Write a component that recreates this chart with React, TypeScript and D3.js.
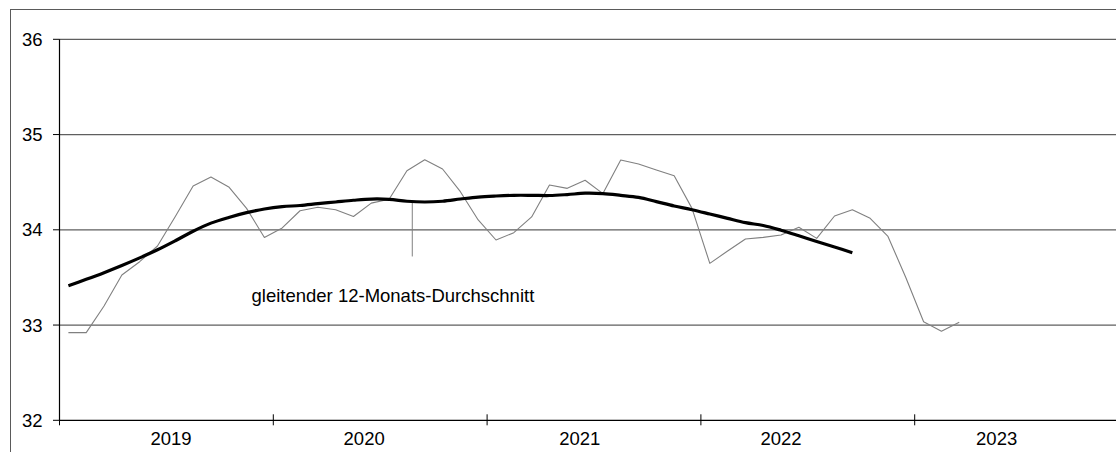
import React from "react";
import * as d3 from "d3";

// ---- data ----
const years = ["2019", "2020", "2021", "2022", "2023"];
const yTicks = [32, 33, 34, 35, 36];
// monthly values from Jan 2019 to Mar 2023
const monthly = [
  32.92, 32.92, 33.2, 33.525, 33.665, 33.83, 34.14, 34.46, 34.555, 34.45, 34.225, 33.92,
  34.02, 34.2, 34.236, 34.21, 34.14, 34.28, 34.32, 34.62, 34.736, 34.638, 34.4, 34.103,
  33.893, 33.97, 34.135, 34.47, 34.435, 34.52, 34.38, 34.733, 34.69, 34.628, 34.568, 34.225,
  33.648, 33.777, 33.903, 33.92, 33.945, 34.026, 33.91, 34.145, 34.21, 34.12, 33.93, 33.5,
  33.035, 32.935, 33.03,
];
// gleitender 12-Monats-Durchschnitt, Jan 2019 to Sep 2022
const movingAvg = [
  33.413, 33.48, 33.55, 33.625, 33.705, 33.79, 33.885, 33.985, 34.07, 34.13, 34.18, 34.218,
  34.243, 34.255, 34.274, 34.292, 34.31, 34.323, 34.32, 34.3, 34.292, 34.3, 34.323, 34.344,
  34.355, 34.362, 34.362, 34.36, 34.37, 34.384, 34.38, 34.362, 34.34, 34.296, 34.25, 34.211,
  34.166, 34.12, 34.075, 34.045, 33.995, 33.937, 33.877, 33.82, 33.76,
];
// stray vertical drop line (month offset, from, to)
const spikeMonth = 19.8;
const spikeFrom = 34.3;
const spikeTo = 33.72;
const avgLabel = "gleitender 12-Monats-Durchschnitt";

// ---- layout ----
const W = 1116;
const H = 452;
const plotLeft = 59.5;
const plotRight = 59.5 + 5 * 213.8;
const plotTop = 39.3;
const plotBottom = 420.3;
const yearLabelAnchor = [6.26, 17.1, 29.2, 40.5, 52.6];
const font = "'Liberation Sans', Arial, sans-serif";

export default function App() {
  const x = d3.scaleLinear().domain([0, 60]).range([plotLeft, plotRight]);
  const y = d3.scaleLinear().domain([32, 36]).range([plotBottom, plotTop]);

  const thinLine = d3
    .line<number>()
    .x((_, i) => x(i + 0.5))
    .y((d) => y(d));
  const thickLine = d3
    .line<number>()
    .x((_, i) => x(i + 0.5))
    .y((d) => y(d))
    .curve(d3.curveCatmullRom.alpha(0.5));

  const yearTicks = d3.range(0, 61, 12);

  return (
    <div style={{ position: "absolute", left: 0, top: 0, width: W, height: H, overflow: "hidden" }}>
      <svg width={W} height={H} style={{ display: "block" }}>
        <rect x={0} y={0} width={W} height={H} fill="#fff" />
        <rect x={10.5} y={9.5} width={W + 40} height={H + 40} fill="none" stroke="#5a5a5a" strokeWidth={1} />
        {/* gridlines */}
        {yTicks.slice(1).map((t) => (
          <line key={"g" + t} x1={plotLeft} x2={W + 20} y1={y(t)} y2={y(t)} stroke="#5f5f5f" strokeWidth={1.2} />
        ))}
        {/* y ticks + labels */}
        {yTicks.map((t) => (
          <g key={"y" + t}>
            <line x1={plotLeft - 6.5} x2={plotLeft} y1={y(t)} y2={y(t)} stroke="#000" strokeWidth={1} />
            <text
              x={42.5}
              y={y(t)}
              textAnchor="end"
              dominantBaseline="central"
              fontFamily={font}
              fontSize={18.5}
              fill="#000"
            >
              {t}
            </text>
          </g>
        ))}
        {/* axes */}
        <line x1={plotLeft} x2={plotLeft} y1={plotTop} y2={plotBottom} stroke="#000" strokeWidth={1.2} />
        <line x1={plotLeft} x2={W + 20} y1={plotBottom} y2={plotBottom} stroke="#000" strokeWidth={1.3} />
        {yearTicks.map((m) => (
          <line key={"xt" + m} x1={x(m)} x2={x(m)} y1={plotBottom - 6} y2={plotBottom + 5} stroke="#000" strokeWidth={1} />
        ))}
        {years.map((yr, i) => (
          <text
            key={yr}
            x={x(yearLabelAnchor[i])}
            y={444.5}
            textAnchor="middle"
            fontFamily={font}
            fontSize={18.5}
            fill="#000"
          >
            {yr}
          </text>
        ))}
        {/* series */}
        <line x1={x(spikeMonth)} x2={x(spikeMonth)} y1={y(spikeFrom)} y2={y(spikeTo)} stroke="#808080" strokeWidth={1} />
        <path d={thinLine(monthly) || ""} fill="none" stroke="#808080" strokeWidth={1.1} strokeLinejoin="round" />
        <path d={thickLine(movingAvg) || ""} fill="none" stroke="#000" strokeWidth={3.2} strokeLinejoin="round" />
        <text x={251.5} y={302} fontFamily={font} fontSize={18.5} fill="#000">
          {avgLabel}
        </text>
      </svg>
    </div>
  );
}
